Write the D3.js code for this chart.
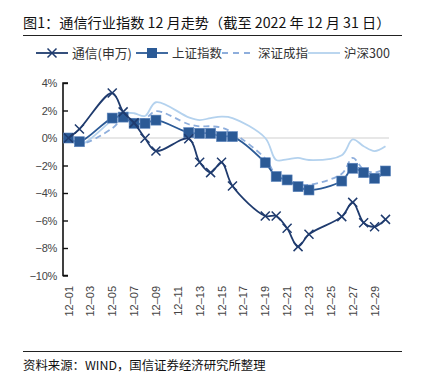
<!DOCTYPE html>
<html><head><meta charset="utf-8">
<script src="https://cdn.jsdelivr.net/npm/d3@7"></script>
<style>
body{margin:0;background:#fff;}
svg{display:block;}
text{font-family:"Liberation Sans",Arial,"Noto Sans CJK SC",sans-serif;}
.cjk{font-family:"Noto Sans CJK SC","Liberation Sans",sans-serif;}
</style></head>
<body>
<svg id="c" width="421" height="379"></svg>
<script>
const title = "图1：通信行业指数 12 月走势（截至 2022 年 12 月 31 日）";
const source = "资料来源：WIND，国信证券经济研究所整理";
const seriesNames = ["通信(申万)", "上证指数", "深证成指", "沪深300"];
const dates = ["12-01","12-02","12-05","12-06","12-07","12-08","12-09","12-12","12-13","12-14","12-15","12-16","12-19","12-20","12-21","12-22","12-23","12-26","12-27","12-28","12-29","12-30"];
const tongxin  = [0, 0.65, 3.27, 1.9, 1.1, -0.02, -0.95, -0.05, -1.77, -2.52, -1.77, -3.49, -5.67, -5.67, -6.57, -7.9, -7.0, -5.72, -4.68, -6.16, -6.45, -5.92];
const shanghai = [0, -0.27, 1.45, 1.52, 1.07, 1.07, 1.3, 0.39, 0.34, 0.34, 0.1, 0.1, -1.8, -2.8, -3.05, -3.54, -3.78, -3.13, -2.2, -2.52, -2.93, -2.4];
const shenzhen = [0, -0.45, 0.7, 1.4, 1.35, 1.4, 1.95, 1.0, 0.85, 0.85, 0.75, 0.4, -1.5, -2.7, -3.0, -3.35, -3.4, -2.6, -1.45, -2.3, -2.5, -2.25];
const hs300    = [0, -0.5, 1.3, 1.8, 1.8, 1.6, 2.6, 1.5, 1.3, 1.45, 1.55, 1.45, 0.0, -1.6, -1.55, -1.45, -1.6, -1.25, -0.1, -0.6, -0.95, -0.6];
const yTicks = [4, 2, 0, -2, -4, -6, -8, -10];
const yTickLabels = ["4%", "2%", "0%", "−2%", "−4%", "−6%", "−8%", "−10%"];
const xTickLabels = ["12–01","12–03","12–05","12–07","12–09","12–11","12–13","12–15","12–17","12–19","12–21","12–23","12–25","12–27","12–29"];

const colors = {tongxin:"#1f3b6e", shanghai:"#2b5a96", shenzhen:"#8eaedc", hs300:"#b4d2ee"};

const svg = d3.select("#c");
const dayOf = s => +s.split(/[-–]/)[1];

const x = d3.scaleLinear().domain([1, 30]).range([68.5, 385.5]);
const y = d3.scaleLinear().domain([-10, 4]).range([275.5, 83]);

// title
svg.append("text").attr("class","cjk").attr("x",23).attr("y",28)
  .attr("font-size",14.2).attr("fill","#111").text(title);
svg.append("line").attr("x1",23).attr("x2",402).attr("y1",35.5).attr("y2",35.5)
  .attr("stroke","#222").attr("stroke-width",1);

// zero line
svg.append("line").attr("x1",63).attr("x2",389).attr("y1",y(0)).attr("y2",y(0))
  .attr("stroke","#d0d0d0").attr("stroke-width",1.2);

// y axis
const yAxis = d3.axisRight(y).tickValues(yTicks).tickSize(5)
  .tickFormat((d,i)=>"");
const ya = svg.append("g").attr("transform","translate(63,0)").call(yAxis);
ya.select(".domain").attr("stroke","#111").attr("stroke-width",1.6).attr("d", `M5,${y(4)}H0V${y(-10)}H5`);
ya.selectAll(".tick line").attr("stroke","#111").attr("stroke-width",1.4);
svg.append("g").selectAll("text").data(yTicks).join("text")
  .attr("x",57).attr("y",d=>y(d)+4).attr("text-anchor","end")
  .attr("font-size",11).attr("fill","#444").attr("letter-spacing",-0.3)
  .text((d,i)=>yTickLabels[i]);

// x tick labels
svg.append("g").selectAll("text").data(xTickLabels).join("text")
  .attr("transform",d=>`translate(${x(dayOf(d))+4},286) rotate(-90)`)
  .attr("text-anchor","end").attr("font-size",11).attr("fill","#444")
  .text(d=>d);

function series(vals){ return dates.map((d,i)=>({x:x(dayOf(d)), y:y(vals[i])})); }
const line = d3.line().x(d=>d.x).y(d=>d.y).curve(d3.curveCatmullRom.alpha(0.5));

// hs300
svg.append("path").attr("d",line(series(hs300))).attr("fill","none")
  .attr("stroke",colors.hs300).attr("stroke-width",1.8);
// shenzhen dashed
svg.append("path").attr("d",line(series(shenzhen))).attr("fill","none")
  .attr("stroke",colors.shenzhen).attr("stroke-width",1.8).attr("stroke-dasharray","6,4");
// shanghai
const sh = series(shanghai);
svg.append("path").attr("d",line(sh)).attr("fill","none")
  .attr("stroke",colors.shanghai).attr("stroke-width",1.8);
svg.append("g").selectAll("rect").data(sh).join("rect")
  .attr("x",d=>d.x-5).attr("y",d=>d.y-5).attr("width",10).attr("height",10)
  .attr("fill",colors.shanghai).attr("stroke","#5b84bd").attr("stroke-width",0.6);
// tongxin
const tx = series(tongxin);
svg.append("path").attr("d",line(tx)).attr("fill","none")
  .attr("stroke",colors.tongxin).attr("stroke-width",1.8);
svg.append("g").selectAll("path").data(tx).join("path")
  .attr("d",d=>`M${d.x-4.5},${d.y-4.5}L${d.x+4.5},${d.y+4.5}M${d.x-4.5},${d.y+4.5}L${d.x+4.5},${d.y-4.5}`)
  .attr("stroke",colors.tongxin).attr("stroke-width",1.5);

// legend
const lg = svg.append("g");
const ly = 53;
// 1
lg.append("line").attr("x1",36).attr("x2",68).attr("y1",ly).attr("y2",ly).attr("stroke",colors.tongxin).attr("stroke-width",1.8);
lg.append("path").attr("d",`M47.5,${ly-4.5}l9,9M47.5,${ly+4.5}l9,-9`).attr("stroke",colors.tongxin).attr("stroke-width",1.5);
lg.append("text").attr("class","cjk").attr("x",72).attr("y",ly+4.5).attr("font-size",12.8).attr("fill","#333").text(seriesNames[0]);
// 2
lg.append("line").attr("x1",136).attr("x2",168).attr("y1",ly).attr("y2",ly).attr("stroke",colors.shanghai).attr("stroke-width",1.8);
lg.append("rect").attr("x",147).attr("y",ly-5).attr("width",10).attr("height",10).attr("fill",colors.shanghai);
lg.append("text").attr("class","cjk").attr("x",172).attr("y",ly+4.5).attr("font-size",12.5).attr("fill","#333").text(seriesNames[1]);
// 3
lg.append("line").attr("x1",222).attr("x2",254).attr("y1",ly).attr("y2",ly).attr("stroke",colors.shenzhen).attr("stroke-width",1.8).attr("stroke-dasharray","6,5");
lg.append("text").attr("class","cjk").attr("x",258).attr("y",ly+4.5).attr("font-size",12.5).attr("fill","#333").text(seriesNames[2]);
// 4
lg.append("line").attr("x1",308).attr("x2",340).attr("y1",ly).attr("y2",ly).attr("stroke",colors.hs300).attr("stroke-width",1.8);
lg.append("text").attr("class","cjk").attr("x",344).attr("y",ly+4.5).attr("font-size",12.5).attr("fill","#333").text(seriesNames[3]);

// footer
svg.append("line").attr("x1",23).attr("x2",402).attr("y1",351.5).attr("y2",351.5)
  .attr("stroke","#222").attr("stroke-width",1);
svg.append("text").attr("class","cjk").attr("x",23).attr("y",370)
  .attr("font-size",12.4).attr("fill","#111").text(source);
</script>
</body></html>
